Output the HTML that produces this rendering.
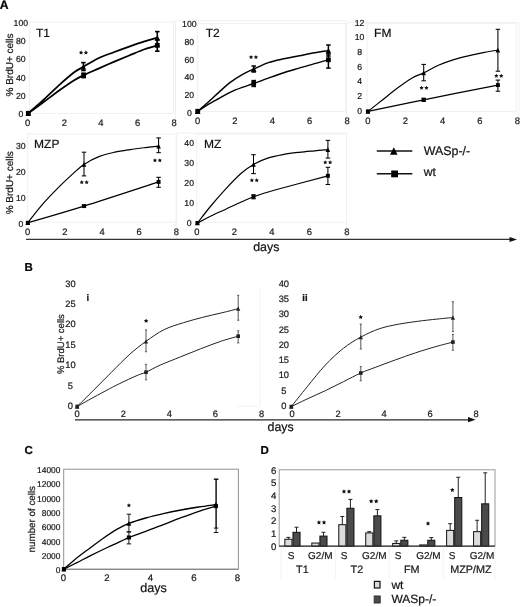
<!DOCTYPE html>
<html><head><meta charset="utf-8"><title>figure</title>
<style>
html,body{margin:0;padding:0;background:#fff;}
body{width:520px;height:607px;overflow:hidden;}
svg{display:block;font-family:"Liberation Sans", sans-serif;will-change:transform;text-rendering:geometricPrecision;}
svg text{stroke:#1a1a1a;stroke-width:0.22px;}
</style></head>
<body>
<svg width="520" height="607" viewBox="0 0 520 607">
<rect width="520" height="607" fill="#fff"/>
<text x="-0.3" y="8.7" font-size="12.2" font-weight="bold" fill="#000">A</text>
<text x="24.6" y="271.4" font-size="11.5" font-weight="bold" fill="#000">B</text>
<text x="24.4" y="453.6" font-size="11.5" font-weight="bold" fill="#000">C</text>
<text x="260.4" y="453.8" font-size="11.5" font-weight="bold" fill="#000">D</text>
<rect x="29.5" y="22" width="144" height="91.5" fill="none" stroke="#f0f0f0" stroke-width="1"/>
<path d="M175.4,125 V20.8 H346.3 V125" fill="none" stroke="#f0f0f0" stroke-width="1"/>
<rect x="197.7" y="23.5" width="148.3" height="87.9" fill="none" stroke="#f0f0f0" stroke-width="1"/>
<path d="M346.3,125 V22.7 H519 V125" fill="none" stroke="#f0f0f0" stroke-width="1"/>
<rect x="367.1" y="23.3" width="149.1" height="88.1" fill="none" stroke="#f0f0f0" stroke-width="1"/>
<rect x="27.7" y="134" width="148.6" height="88.3" fill="none" stroke="#f0f0f0" stroke-width="1"/>
<path d="M176.3,240 V133.1 H346.5 V240" fill="none" stroke="#f0f0f0" stroke-width="1"/>
<rect x="196.8" y="134" width="149.7" height="88.3" fill="none" stroke="#f0f0f0" stroke-width="1"/>
<rect x="63.7" y="469.2" width="174.7" height="100" fill="none" stroke="#939393" stroke-width="1"/>
<line x1="63.7" y1="569.4" x2="238.4" y2="569.4" stroke="#8a8a8a" stroke-width="1.3"/>
<text x="20.8" y="117.05" font-size="8.7" text-anchor="middle" font-weight="normal" fill="#1a1a1a">0</text>
<text x="20.8" y="98.8" font-size="8.7" text-anchor="middle" font-weight="normal" fill="#1a1a1a">20</text>
<text x="20.8" y="80.56" font-size="8.7" text-anchor="middle" font-weight="normal" fill="#1a1a1a">40</text>
<text x="20.8" y="62.32" font-size="8.7" text-anchor="middle" font-weight="normal" fill="#1a1a1a">60</text>
<text x="20.8" y="44.08" font-size="8.7" text-anchor="middle" font-weight="normal" fill="#1a1a1a">80</text>
<text x="20.8" y="25.84" font-size="8.7" text-anchor="middle" font-weight="normal" fill="#1a1a1a">100</text>
<text x="27.7" y="126.09" font-size="9.4" text-anchor="middle" font-weight="normal" fill="#1a1a1a">0</text>
<text x="64.33" y="126.09" font-size="9.4" text-anchor="middle" font-weight="normal" fill="#1a1a1a">2</text>
<text x="100.95" y="126.09" font-size="9.4" text-anchor="middle" font-weight="normal" fill="#1a1a1a">4</text>
<text x="137.57" y="126.09" font-size="9.4" text-anchor="middle" font-weight="normal" fill="#1a1a1a">6</text>
<text x="174.2" y="126.09" font-size="9.4" text-anchor="middle" font-weight="normal" fill="#1a1a1a">8</text>
<text x="36" y="37" font-size="12" text-anchor="start" font-weight="normal" fill="#111">T1</text>
<text x="0" y="0" font-size="10" text-anchor="middle" fill="#1a1a1a" transform="translate(13,65) rotate(-90)">% BrdU+ cells</text>
<path d="M28.3,113.3 C30.82,111.08 38.32,104.65 43.4,100 C48.48,95.35 53.67,90.02 58.8,85.4 C63.93,80.78 70.1,75.4 74.2,72.3 C78.3,69.2 79.37,69.15 83.4,66.8 C87.43,64.45 93.33,60.63 98.4,58.2 C103.47,55.77 108.67,54.13 113.8,52.2 C118.93,50.27 124.08,48.4 129.2,46.6 C134.32,44.8 139.82,42.88 144.5,41.4 C149.18,39.92 155.17,38.32 157.3,37.7" stroke="#000" stroke-width="1.75" fill="none" stroke-linejoin="round"/>
<path d="M28.3,113.3 C30.82,111.47 38.32,106.05 43.4,102.3 C48.48,98.55 53.67,94.47 58.8,90.8 C63.93,87.13 70.07,82.9 74.2,80.3 C78.33,77.7 79.57,77.15 83.6,75.2 C87.63,73.25 93.37,70.82 98.4,68.6 C103.43,66.38 108.67,64.08 113.8,61.9 C118.93,59.72 124.08,57.6 129.2,55.5 C134.32,53.4 139.82,50.98 144.5,49.3 C149.18,47.62 155.17,46.05 157.3,45.4" stroke="#000" stroke-width="1.75" fill="none" stroke-linejoin="round"/>
<line x1="83.4" y1="62.6" x2="83.4" y2="70.5" stroke="#000" stroke-width="1.6"/>
<line x1="81.15" y1="62.6" x2="85.65" y2="62.6" stroke="#000" stroke-width="1.6"/>
<line x1="81.15" y1="70.5" x2="85.65" y2="70.5" stroke="#000" stroke-width="1.6"/>
<line x1="157.3" y1="31.6" x2="157.3" y2="46" stroke="#000" stroke-width="1.6"/>
<line x1="155.05" y1="31.6" x2="159.55" y2="31.6" stroke="#000" stroke-width="1.6"/>
<line x1="155.05" y1="46" x2="159.55" y2="46" stroke="#000" stroke-width="1.6"/>
<path d="M28.3,110.5 L31.1,116.1 L25.5,116.1 Z" fill="#000"/>
<path d="M83.4,64.2 L86.2,69.8 L80.6,69.8 Z" fill="#000"/>
<path d="M157.3,34.9 L160.1,40.5 L154.5,40.5 Z" fill="#000"/>
<line x1="83.6" y1="73.2" x2="83.6" y2="77.6" stroke="#000" stroke-width="1.6"/>
<line x1="81.35" y1="73.2" x2="85.85" y2="73.2" stroke="#000" stroke-width="1.6"/>
<line x1="81.35" y1="77.6" x2="85.85" y2="77.6" stroke="#000" stroke-width="1.6"/>
<line x1="157.3" y1="40" x2="157.3" y2="51.2" stroke="#000" stroke-width="1.6"/>
<line x1="155.05" y1="40" x2="159.55" y2="40" stroke="#000" stroke-width="1.6"/>
<line x1="155.05" y1="51.2" x2="159.55" y2="51.2" stroke="#000" stroke-width="1.6"/>
<rect x="25.92" y="110.92" width="4.76" height="4.76" fill="#000" stroke="none" stroke-width="1"/>
<rect x="81.22" y="73.02" width="4.76" height="4.76" fill="#000" stroke="none" stroke-width="1"/>
<rect x="154.92" y="43.02" width="4.76" height="4.76" fill="#000" stroke="none" stroke-width="1"/>
<polygon points="81.06,50.35 81.72,51.69 83.2,51.9 82.13,52.95 82.39,54.42 81.06,53.73 79.74,54.42 79.99,52.95 78.92,51.9 80.4,51.69" fill="#111"/>
<polygon points="85.94,50.35 86.6,51.69 88.08,51.9 87.01,52.95 87.26,54.42 85.94,53.73 84.61,54.42 84.87,52.95 83.8,51.9 85.28,51.69" fill="#111"/>
<text x="189.3" y="115.84" font-size="8.7" text-anchor="middle" font-weight="normal" fill="#1a1a1a">0</text>
<text x="189.3" y="98.17" font-size="8.7" text-anchor="middle" font-weight="normal" fill="#1a1a1a">20</text>
<text x="189.3" y="80.48" font-size="8.7" text-anchor="middle" font-weight="normal" fill="#1a1a1a">40</text>
<text x="189.3" y="62.8" font-size="8.7" text-anchor="middle" font-weight="normal" fill="#1a1a1a">60</text>
<text x="189.3" y="45.12" font-size="8.7" text-anchor="middle" font-weight="normal" fill="#1a1a1a">80</text>
<text x="189.3" y="27.44" font-size="8.7" text-anchor="middle" font-weight="normal" fill="#1a1a1a">100</text>
<text x="197.6" y="124.29" font-size="9.4" text-anchor="middle" font-weight="normal" fill="#1a1a1a">0</text>
<text x="234.97" y="124.29" font-size="9.4" text-anchor="middle" font-weight="normal" fill="#1a1a1a">2</text>
<text x="272.35" y="124.29" font-size="9.4" text-anchor="middle" font-weight="normal" fill="#1a1a1a">4</text>
<text x="309.73" y="124.29" font-size="9.4" text-anchor="middle" font-weight="normal" fill="#1a1a1a">6</text>
<text x="347.1" y="124.29" font-size="9.4" text-anchor="middle" font-weight="normal" fill="#1a1a1a">8</text>
<text x="205.7" y="37" font-size="12" text-anchor="start" font-weight="normal" fill="#111">T2</text>
<path d="M197.7,111.3 C199.33,109.87 203.93,105.9 207.5,102.7 C211.07,99.5 215.25,95.52 219.1,92.1 C222.95,88.68 226.75,85.12 230.6,82.2 C234.45,79.28 238.35,76.78 242.2,74.6 C246.05,72.42 249.33,71.1 253.7,69.1 C258.07,67.1 263.38,64.32 268.4,62.6 C273.42,60.88 278.67,59.93 283.8,58.8 C288.93,57.67 294.08,56.8 299.2,55.8 C304.32,54.8 309.63,53.67 314.5,52.8 C319.37,51.93 326.08,50.97 328.4,50.6" stroke="#000" stroke-width="1.45" fill="none" stroke-linejoin="round"/>
<path d="M197.7,111.3 C199.33,110.22 203.93,106.97 207.5,104.8 C211.07,102.63 215.25,100.42 219.1,98.3 C222.95,96.18 226.75,93.92 230.6,92.1 C234.45,90.28 238.35,88.83 242.2,87.4 C246.05,85.97 249.33,85.05 253.7,83.5 C258.07,81.95 263.38,79.9 268.4,78.1 C273.42,76.3 278.67,74.37 283.8,72.7 C288.93,71.03 294.08,69.62 299.2,68.1 C304.32,66.58 309.63,64.98 314.5,63.6 C319.37,62.22 326.08,60.43 328.4,59.8" stroke="#000" stroke-width="1.45" fill="none" stroke-linejoin="round"/>
<line x1="253.7" y1="66" x2="253.7" y2="72" stroke="#000" stroke-width="1.5"/>
<line x1="251.45" y1="66" x2="255.95" y2="66" stroke="#000" stroke-width="1.5"/>
<line x1="251.45" y1="72" x2="255.95" y2="72" stroke="#000" stroke-width="1.5"/>
<line x1="328.4" y1="45" x2="328.4" y2="56" stroke="#000" stroke-width="1.5"/>
<line x1="326.15" y1="45" x2="330.65" y2="45" stroke="#000" stroke-width="1.5"/>
<line x1="326.15" y1="56" x2="330.65" y2="56" stroke="#000" stroke-width="1.5"/>
<path d="M197.7,108.5 L200.5,114.1 L194.9,114.1 Z" fill="#000"/>
<path d="M253.7,66.1 L256.5,71.7 L250.9,71.7 Z" fill="#000"/>
<path d="M328.4,47.8 L331.2,53.4 L325.6,53.4 Z" fill="#000"/>
<line x1="253.7" y1="80.6" x2="253.7" y2="86.4" stroke="#000" stroke-width="1.5"/>
<line x1="251.45" y1="80.6" x2="255.95" y2="80.6" stroke="#000" stroke-width="1.5"/>
<line x1="251.45" y1="86.4" x2="255.95" y2="86.4" stroke="#000" stroke-width="1.5"/>
<line x1="328.4" y1="54" x2="328.4" y2="68.1" stroke="#000" stroke-width="1.5"/>
<line x1="326.15" y1="54" x2="330.65" y2="54" stroke="#000" stroke-width="1.5"/>
<line x1="326.15" y1="68.1" x2="330.65" y2="68.1" stroke="#000" stroke-width="1.5"/>
<rect x="195.32" y="108.92" width="4.76" height="4.76" fill="#000" stroke="none" stroke-width="1"/>
<rect x="251.32" y="81.12" width="4.76" height="4.76" fill="#000" stroke="none" stroke-width="1"/>
<rect x="326.02" y="57.42" width="4.76" height="4.76" fill="#000" stroke="none" stroke-width="1"/>
<polygon points="251.06,54.95 251.72,56.29 253.2,56.5 252.13,57.55 252.39,59.02 251.06,58.33 249.74,59.02 249.99,57.55 248.92,56.5 250.4,56.29" fill="#111"/>
<polygon points="255.94,54.95 256.6,56.29 258.08,56.5 257.01,57.55 257.26,59.02 255.94,58.33 254.61,59.02 254.87,57.55 253.8,56.5 255.28,56.29" fill="#111"/>
<text x="359.6" y="113.84" font-size="8.7" text-anchor="middle" font-weight="normal" fill="#1a1a1a">0</text>
<text x="359.6" y="99.13" font-size="8.7" text-anchor="middle" font-weight="normal" fill="#1a1a1a">2</text>
<text x="359.6" y="84.41" font-size="8.7" text-anchor="middle" font-weight="normal" fill="#1a1a1a">4</text>
<text x="359.6" y="69.7" font-size="8.7" text-anchor="middle" font-weight="normal" fill="#1a1a1a">6</text>
<text x="359.6" y="54.98" font-size="8.7" text-anchor="middle" font-weight="normal" fill="#1a1a1a">8</text>
<text x="359.6" y="40.26" font-size="8.7" text-anchor="middle" font-weight="normal" fill="#1a1a1a">10</text>
<text x="359.6" y="25.54" font-size="8.7" text-anchor="middle" font-weight="normal" fill="#1a1a1a">12</text>
<text x="367.9" y="124.49" font-size="9.4" text-anchor="middle" font-weight="normal" fill="#1a1a1a">0</text>
<text x="405.25" y="124.49" font-size="9.4" text-anchor="middle" font-weight="normal" fill="#1a1a1a">2</text>
<text x="442.6" y="124.49" font-size="9.4" text-anchor="middle" font-weight="normal" fill="#1a1a1a">4</text>
<text x="479.95" y="124.49" font-size="9.4" text-anchor="middle" font-weight="normal" fill="#1a1a1a">6</text>
<text x="517.3" y="124.49" font-size="9.4" text-anchor="middle" font-weight="normal" fill="#1a1a1a">8</text>
<text x="374.1" y="36.8" font-size="12" text-anchor="start" font-weight="normal" fill="#111">FM</text>
<path d="M367.9,111.4 C370.15,109.63 376.58,104.62 381.4,100.8 C386.22,96.98 391.67,92.32 396.8,88.5 C401.93,84.68 407.72,80.5 412.2,77.9 C416.68,75.3 419.33,75 423.7,72.9 C428.07,70.8 433.38,67.52 438.4,65.3 C443.42,63.08 448.67,61.22 453.8,59.6 C458.93,57.98 464.08,56.8 469.2,55.6 C474.32,54.4 479.72,53.32 484.5,52.4 C489.28,51.48 495.67,50.48 497.9,50.1" stroke="#000" stroke-width="1.2" fill="none" stroke-linejoin="round"/>
<path d="M367.9,111.4 C377.2,109.47 402.03,104.18 423.7,99.8 C445.37,95.42 485.53,87.55 497.9,85.1" stroke="#000" stroke-width="1.2" fill="none" stroke-linejoin="round"/>
<line x1="423.7" y1="64.4" x2="423.7" y2="80.8" stroke="#000" stroke-width="1.05"/>
<line x1="421.45" y1="64.4" x2="425.95" y2="64.4" stroke="#000" stroke-width="1.05"/>
<line x1="421.45" y1="80.8" x2="425.95" y2="80.8" stroke="#000" stroke-width="1.05"/>
<line x1="497.9" y1="29.3" x2="497.9" y2="71.2" stroke="#000" stroke-width="1.05"/>
<line x1="495.65" y1="29.3" x2="500.15" y2="29.3" stroke="#000" stroke-width="1.05"/>
<line x1="495.65" y1="71.2" x2="500.15" y2="71.2" stroke="#000" stroke-width="1.05"/>
<path d="M367.9,109.1 L370.2,113.7 L365.6,113.7 Z" fill="#000"/>
<path d="M423.7,70.6 L426,75.2 L421.4,75.2 Z" fill="#000"/>
<path d="M497.9,47.8 L500.2,52.4 L495.6,52.4 Z" fill="#000"/>
<line x1="423.7" y1="98.3" x2="423.7" y2="101.3" stroke="#000" stroke-width="1.05"/>
<line x1="421.45" y1="98.3" x2="425.95" y2="98.3" stroke="#000" stroke-width="1.05"/>
<line x1="421.45" y1="101.3" x2="425.95" y2="101.3" stroke="#000" stroke-width="1.05"/>
<line x1="497.9" y1="80.1" x2="497.9" y2="91.2" stroke="#000" stroke-width="1.05"/>
<line x1="495.65" y1="80.1" x2="500.15" y2="80.1" stroke="#000" stroke-width="1.05"/>
<line x1="495.65" y1="91.2" x2="500.15" y2="91.2" stroke="#000" stroke-width="1.05"/>
<rect x="365.94" y="109.45" width="3.91" height="3.91" fill="#000" stroke="none" stroke-width="1"/>
<rect x="421.75" y="97.84" width="3.91" height="3.91" fill="#000" stroke="none" stroke-width="1"/>
<rect x="495.94" y="83.14" width="3.91" height="3.91" fill="#000" stroke="none" stroke-width="1"/>
<polygon points="421.56,85.75 422.22,87.09 423.7,87.3 422.63,88.35 422.89,89.82 421.56,89.12 420.24,89.82 420.49,88.35 419.42,87.3 420.9,87.09" fill="#111"/>
<polygon points="426.44,85.75 427.1,87.09 428.58,87.3 427.51,88.35 427.76,89.82 426.44,89.12 425.11,89.82 425.37,88.35 424.3,87.3 425.78,87.09" fill="#111"/>
<polygon points="496.36,73.65 497.02,74.99 498.5,75.2 497.43,76.25 497.69,77.72 496.36,77.03 495.04,77.72 495.29,76.25 494.22,75.2 495.7,74.99" fill="#111"/>
<polygon points="501.24,73.65 501.9,74.99 503.38,75.2 502.31,76.25 502.56,77.72 501.24,77.03 499.91,77.72 500.17,76.25 499.1,75.2 500.58,74.99" fill="#111"/>
<text x="20.8" y="226.64" font-size="8.7" text-anchor="middle" font-weight="normal" fill="#1a1a1a">0</text>
<text x="20.8" y="200.78" font-size="8.7" text-anchor="middle" font-weight="normal" fill="#1a1a1a">10</text>
<text x="20.8" y="174.91" font-size="8.7" text-anchor="middle" font-weight="normal" fill="#1a1a1a">20</text>
<text x="20.8" y="149.04" font-size="8.7" text-anchor="middle" font-weight="normal" fill="#1a1a1a">30</text>
<text x="27.7" y="235.09" font-size="9.4" text-anchor="middle" font-weight="normal" fill="#1a1a1a">0</text>
<text x="64.85" y="235.09" font-size="9.4" text-anchor="middle" font-weight="normal" fill="#1a1a1a">2</text>
<text x="102" y="235.09" font-size="9.4" text-anchor="middle" font-weight="normal" fill="#1a1a1a">4</text>
<text x="139.15" y="235.09" font-size="9.4" text-anchor="middle" font-weight="normal" fill="#1a1a1a">6</text>
<text x="176.3" y="235.09" font-size="9.4" text-anchor="middle" font-weight="normal" fill="#1a1a1a">8</text>
<text x="34.1" y="147.8" font-size="12" text-anchor="start" font-weight="normal" fill="#111">MZP</text>
<text x="0" y="0" font-size="10" text-anchor="middle" fill="#1a1a1a" transform="translate(13.4,182.8) rotate(-90)">% BrdU+ cells</text>
<path d="M27.8,222.8 C30.07,219.93 36.57,211.22 41.4,205.6 C46.23,199.98 51.67,194.3 56.8,189.1 C61.93,183.9 67.67,178.52 72.2,174.4 C76.73,170.28 79.47,167.4 84,164.4 C88.53,161.4 94.27,158.43 99.4,156.4 C104.53,154.37 109.67,153.33 114.8,152.2 C119.93,151.07 125.08,150.37 130.2,149.6 C135.32,148.83 140.77,148.18 145.5,147.6 C150.23,147.02 156.42,146.35 158.6,146.1" stroke="#000" stroke-width="1.2" fill="none" stroke-linejoin="round"/>
<path d="M27.8,222.8 C37.17,220.02 62.2,212.92 84,206.1 C105.8,199.28 146.17,185.93 158.6,181.9" stroke="#000" stroke-width="1.2" fill="none" stroke-linejoin="round"/>
<line x1="84" y1="152.2" x2="84" y2="175.9" stroke="#000" stroke-width="1.05"/>
<line x1="81.75" y1="152.2" x2="86.25" y2="152.2" stroke="#000" stroke-width="1.05"/>
<line x1="81.75" y1="175.9" x2="86.25" y2="175.9" stroke="#000" stroke-width="1.05"/>
<line x1="158.6" y1="137.9" x2="158.6" y2="152.7" stroke="#000" stroke-width="1.05"/>
<line x1="156.35" y1="137.9" x2="160.85" y2="137.9" stroke="#000" stroke-width="1.05"/>
<line x1="156.35" y1="152.7" x2="160.85" y2="152.7" stroke="#000" stroke-width="1.05"/>
<path d="M27.8,220.5 L30.1,225.1 L25.5,225.1 Z" fill="#000"/>
<path d="M84,162.1 L86.3,166.7 L81.7,166.7 Z" fill="#000"/>
<path d="M158.6,143.8 L160.9,148.4 L156.3,148.4 Z" fill="#000"/>
<line x1="84" y1="205" x2="84" y2="207.2" stroke="#000" stroke-width="1.05"/>
<line x1="81.75" y1="205" x2="86.25" y2="205" stroke="#000" stroke-width="1.05"/>
<line x1="81.75" y1="207.2" x2="86.25" y2="207.2" stroke="#000" stroke-width="1.05"/>
<line x1="158.6" y1="177.3" x2="158.6" y2="187.3" stroke="#000" stroke-width="1.05"/>
<line x1="156.35" y1="177.3" x2="160.85" y2="177.3" stroke="#000" stroke-width="1.05"/>
<line x1="156.35" y1="187.3" x2="160.85" y2="187.3" stroke="#000" stroke-width="1.05"/>
<rect x="25.85" y="220.84" width="3.91" height="3.91" fill="#000" stroke="none" stroke-width="1"/>
<rect x="82.05" y="204.14" width="3.91" height="3.91" fill="#000" stroke="none" stroke-width="1"/>
<rect x="156.64" y="179.94" width="3.91" height="3.91" fill="#000" stroke="none" stroke-width="1"/>
<polygon points="81.76,180.05 82.42,181.39 83.9,181.6 82.83,182.65 83.09,184.12 81.76,183.43 80.44,184.12 80.69,182.65 79.62,181.6 81.1,181.39" fill="#111"/>
<polygon points="86.64,180.05 87.3,181.39 88.78,181.6 87.71,182.65 87.96,184.12 86.64,183.43 85.31,184.12 85.57,182.65 84.5,181.6 85.98,181.39" fill="#111"/>
<polygon points="154.96,158.15 155.62,159.49 157.1,159.7 156.03,160.75 156.29,162.22 154.96,161.53 153.64,162.22 153.89,160.75 152.82,159.7 154.3,159.49" fill="#111"/>
<polygon points="159.84,158.15 160.5,159.49 161.98,159.7 160.91,160.75 161.16,162.22 159.84,161.53 158.51,162.22 158.77,160.75 157.7,159.7 159.18,159.49" fill="#111"/>
<text x="189.2" y="226.04" font-size="8.7" text-anchor="middle" font-weight="normal" fill="#1a1a1a">0</text>
<text x="189.2" y="206.14" font-size="8.7" text-anchor="middle" font-weight="normal" fill="#1a1a1a">10</text>
<text x="189.2" y="186.24" font-size="8.7" text-anchor="middle" font-weight="normal" fill="#1a1a1a">20</text>
<text x="189.2" y="166.34" font-size="8.7" text-anchor="middle" font-weight="normal" fill="#1a1a1a">30</text>
<text x="189.2" y="146.44" font-size="8.7" text-anchor="middle" font-weight="normal" fill="#1a1a1a">40</text>
<text x="196.8" y="234.79" font-size="9.4" text-anchor="middle" font-weight="normal" fill="#1a1a1a">0</text>
<text x="234.32" y="234.79" font-size="9.4" text-anchor="middle" font-weight="normal" fill="#1a1a1a">2</text>
<text x="271.85" y="234.79" font-size="9.4" text-anchor="middle" font-weight="normal" fill="#1a1a1a">4</text>
<text x="309.38" y="234.79" font-size="9.4" text-anchor="middle" font-weight="normal" fill="#1a1a1a">6</text>
<text x="346.9" y="234.79" font-size="9.4" text-anchor="middle" font-weight="normal" fill="#1a1a1a">8</text>
<text x="204" y="147.6" font-size="12" text-anchor="start" font-weight="normal" fill="#111">MZ</text>
<path d="M197.4,223 C199.57,220.25 205.67,212.18 210.4,206.5 C215.13,200.82 220.67,194.43 225.8,188.9 C230.93,183.37 236.58,177.38 241.2,173.3 C245.82,169.22 248.97,166.97 253.5,164.4 C258.03,161.83 263.35,159.57 268.4,157.9 C273.45,156.23 278.67,155.33 283.8,154.4 C288.93,153.47 294.08,152.9 299.2,152.3 C304.32,151.7 309.72,151.25 314.5,150.8 C319.28,150.35 325.67,149.8 327.9,149.6" stroke="#000" stroke-width="1.2" fill="none" stroke-linejoin="round"/>
<path d="M197.4,223 C199.57,221.87 205.67,218.5 210.4,216.2 C215.13,213.9 220.67,211.57 225.8,209.2 C230.93,206.83 236.58,204.08 241.2,202 C245.82,199.92 247.87,198.7 253.5,196.7 C259.13,194.7 262.6,193.48 275,190 C287.4,186.52 319.08,178.17 327.9,175.8" stroke="#000" stroke-width="1.2" fill="none" stroke-linejoin="round"/>
<line x1="253.5" y1="154.7" x2="253.5" y2="173.6" stroke="#000" stroke-width="1.05"/>
<line x1="251.25" y1="154.7" x2="255.75" y2="154.7" stroke="#000" stroke-width="1.05"/>
<line x1="251.25" y1="173.6" x2="255.75" y2="173.6" stroke="#000" stroke-width="1.05"/>
<line x1="327.9" y1="140.4" x2="327.9" y2="158.1" stroke="#000" stroke-width="1.05"/>
<line x1="325.65" y1="140.4" x2="330.15" y2="140.4" stroke="#000" stroke-width="1.05"/>
<line x1="325.65" y1="158.1" x2="330.15" y2="158.1" stroke="#000" stroke-width="1.05"/>
<path d="M197.4,220.7 L199.7,225.3 L195.1,225.3 Z" fill="#000"/>
<path d="M253.5,162.1 L255.8,166.7 L251.2,166.7 Z" fill="#000"/>
<path d="M327.9,147.3 L330.2,151.9 L325.6,151.9 Z" fill="#000"/>
<line x1="253.5" y1="194.8" x2="253.5" y2="198.8" stroke="#000" stroke-width="1.05"/>
<line x1="251.25" y1="194.8" x2="255.75" y2="194.8" stroke="#000" stroke-width="1.05"/>
<line x1="251.25" y1="198.8" x2="255.75" y2="198.8" stroke="#000" stroke-width="1.05"/>
<line x1="327.9" y1="167.3" x2="327.9" y2="184.5" stroke="#000" stroke-width="1.05"/>
<line x1="325.65" y1="167.3" x2="330.15" y2="167.3" stroke="#000" stroke-width="1.05"/>
<line x1="325.65" y1="184.5" x2="330.15" y2="184.5" stroke="#000" stroke-width="1.05"/>
<rect x="195.44" y="221.04" width="3.91" height="3.91" fill="#000" stroke="none" stroke-width="1"/>
<rect x="251.54" y="194.74" width="3.91" height="3.91" fill="#000" stroke="none" stroke-width="1"/>
<rect x="325.94" y="173.84" width="3.91" height="3.91" fill="#000" stroke="none" stroke-width="1"/>
<polygon points="251.86,178.05 252.52,179.39 254,179.6 252.93,180.65 253.19,182.12 251.86,181.43 250.54,182.12 250.79,180.65 249.72,179.6 251.2,179.39" fill="#111"/>
<polygon points="256.74,178.05 257.4,179.39 258.88,179.6 257.81,180.65 258.06,182.12 256.74,181.43 255.41,182.12 255.67,180.65 254.6,179.6 256.08,179.39" fill="#111"/>
<polygon points="325.26,160.25 325.92,161.59 327.4,161.8 326.33,162.85 326.59,164.32 325.26,163.62 323.94,164.32 324.19,162.85 323.12,161.8 324.6,161.59" fill="#111"/>
<polygon points="330.14,160.25 330.8,161.59 332.28,161.8 331.21,162.85 331.46,164.32 330.14,163.62 328.81,164.32 329.07,162.85 328,161.8 329.48,161.59" fill="#111"/>
<text x="70.4" y="408.95" font-size="9.3" text-anchor="middle" font-weight="normal" fill="#1a1a1a">0</text>
<text x="70.4" y="388.59" font-size="9.3" text-anchor="middle" font-weight="normal" fill="#1a1a1a">5</text>
<text x="70.4" y="368.22" font-size="9.3" text-anchor="middle" font-weight="normal" fill="#1a1a1a">10</text>
<text x="70.4" y="347.86" font-size="9.3" text-anchor="middle" font-weight="normal" fill="#1a1a1a">15</text>
<text x="70.4" y="327.49" font-size="9.3" text-anchor="middle" font-weight="normal" fill="#1a1a1a">20</text>
<text x="70.4" y="307.12" font-size="9.3" text-anchor="middle" font-weight="normal" fill="#1a1a1a">25</text>
<text x="70.4" y="286.75" font-size="9.3" text-anchor="middle" font-weight="normal" fill="#1a1a1a">30</text>
<text x="77.2" y="416.65" font-size="9.3" text-anchor="middle" font-weight="normal" fill="#1a1a1a">0</text>
<text x="123.28" y="416.65" font-size="9.3" text-anchor="middle" font-weight="normal" fill="#1a1a1a">2</text>
<text x="169.35" y="416.65" font-size="9.3" text-anchor="middle" font-weight="normal" fill="#1a1a1a">4</text>
<text x="215.43" y="416.65" font-size="9.3" text-anchor="middle" font-weight="normal" fill="#1a1a1a">6</text>
<text x="261.5" y="416.65" font-size="9.3" text-anchor="middle" font-weight="normal" fill="#1a1a1a">8</text>
<text x="86.6" y="300.8" font-size="9.5" text-anchor="start" font-weight="bold" fill="#111">i</text>
<text x="0" y="0" font-size="9.5" text-anchor="middle" fill="#1a1a1a" transform="translate(63.62,344.1) rotate(-90)">% BrdU+ cells</text>
<path d="M77.2,406.5 C79.85,403.87 87.42,396.38 93.1,390.7 C98.78,385.02 105.25,378.42 111.3,372.4 C117.35,366.38 123.62,359.78 129.4,354.6 C135.18,349.42 140.2,345.47 146,341.3 C151.8,337.13 157.95,332.7 164.2,329.6 C170.45,326.5 177.08,324.75 183.5,322.7 C189.92,320.65 196.3,318.95 202.7,317.3 C209.1,315.65 215.98,314.23 221.9,312.8 C227.82,311.37 235.48,309.38 238.2,308.7" stroke="#222" stroke-width="1" fill="none" stroke-linejoin="round"/>
<path d="M77.2,406.5 C79.85,405.02 87.7,400.57 93.1,397.6 C98.5,394.63 105.25,391 109.6,388.7 C113.95,386.4 116,385.38 119.2,383.8 C122.4,382.22 125.58,380.68 128.8,379.2 C132.02,377.72 135.63,376.07 138.5,374.9 C141.37,373.73 142.38,373.83 146,372.2 C149.62,370.57 154.47,367.65 160.2,365.1 C165.93,362.55 173.67,359.62 180.4,356.9 C187.13,354.18 193.87,351.4 200.6,348.8 C207.33,346.2 214.53,343.4 220.8,341.3 C227.07,339.2 235.3,337.05 238.2,336.2" stroke="#222" stroke-width="1" fill="none" stroke-linejoin="round"/>
<line x1="146" y1="329.9" x2="146" y2="351.7" stroke="#666" stroke-width="1.1"/>
<line x1="144.9" y1="329.9" x2="147.1" y2="329.9" stroke="#666" stroke-width="1.1"/>
<line x1="144.9" y1="351.7" x2="147.1" y2="351.7" stroke="#666" stroke-width="1.1"/>
<line x1="238.2" y1="295.4" x2="238.2" y2="320.2" stroke="#666" stroke-width="1.1"/>
<line x1="237.1" y1="295.4" x2="239.3" y2="295.4" stroke="#666" stroke-width="1.1"/>
<line x1="237.1" y1="320.2" x2="239.3" y2="320.2" stroke="#666" stroke-width="1.1"/>
<path d="M77.2,404.35 L79.35,408.65 L75.05,408.65 Z" fill="#222"/>
<path d="M146,339.15 L148.15,343.45 L143.85,343.45 Z" fill="#222"/>
<path d="M238.2,306.55 L240.35,310.85 L236.05,310.85 Z" fill="#222"/>
<line x1="146" y1="364.4" x2="146" y2="379.8" stroke="#666" stroke-width="1.1"/>
<line x1="144.9" y1="364.4" x2="147.1" y2="364.4" stroke="#666" stroke-width="1.1"/>
<line x1="144.9" y1="379.8" x2="147.1" y2="379.8" stroke="#666" stroke-width="1.1"/>
<line x1="238.2" y1="330.8" x2="238.2" y2="342.9" stroke="#666" stroke-width="1.1"/>
<line x1="237.1" y1="330.8" x2="239.3" y2="330.8" stroke="#666" stroke-width="1.1"/>
<line x1="237.1" y1="342.9" x2="239.3" y2="342.9" stroke="#666" stroke-width="1.1"/>
<rect x="75.37" y="404.67" width="3.65" height="3.65" fill="#222" stroke="none" stroke-width="1"/>
<rect x="144.17" y="370.37" width="3.65" height="3.65" fill="#222" stroke="none" stroke-width="1"/>
<rect x="236.37" y="334.37" width="3.65" height="3.65" fill="#222" stroke="none" stroke-width="1"/>
<polygon points="146.1,318.56 146.79,319.95 148.33,320.18 147.21,321.26 147.48,322.79 146.1,322.07 144.72,322.79 144.99,321.26 143.87,320.18 145.41,319.95" fill="#111"/>
<text x="283.8" y="408.95" font-size="9.3" text-anchor="middle" font-weight="normal" fill="#1a1a1a">0</text>
<text x="283.8" y="393.68" font-size="9.3" text-anchor="middle" font-weight="normal" fill="#1a1a1a">5</text>
<text x="283.8" y="378.4" font-size="9.3" text-anchor="middle" font-weight="normal" fill="#1a1a1a">10</text>
<text x="283.8" y="363.13" font-size="9.3" text-anchor="middle" font-weight="normal" fill="#1a1a1a">15</text>
<text x="283.8" y="347.86" font-size="9.3" text-anchor="middle" font-weight="normal" fill="#1a1a1a">20</text>
<text x="283.8" y="332.58" font-size="9.3" text-anchor="middle" font-weight="normal" fill="#1a1a1a">25</text>
<text x="283.8" y="317.31" font-size="9.3" text-anchor="middle" font-weight="normal" fill="#1a1a1a">30</text>
<text x="283.8" y="302.03" font-size="9.3" text-anchor="middle" font-weight="normal" fill="#1a1a1a">35</text>
<text x="283.8" y="286.75" font-size="9.3" text-anchor="middle" font-weight="normal" fill="#1a1a1a">40</text>
<text x="292" y="416.75" font-size="9.3" text-anchor="middle" font-weight="normal" fill="#1a1a1a">0</text>
<text x="338" y="416.75" font-size="9.3" text-anchor="middle" font-weight="normal" fill="#1a1a1a">2</text>
<text x="384" y="416.75" font-size="9.3" text-anchor="middle" font-weight="normal" fill="#1a1a1a">4</text>
<text x="430" y="416.75" font-size="9.3" text-anchor="middle" font-weight="normal" fill="#1a1a1a">6</text>
<text x="476" y="416.75" font-size="9.3" text-anchor="middle" font-weight="normal" fill="#1a1a1a">8</text>
<text x="302.3" y="300.8" font-size="9.5" text-anchor="start" font-weight="bold" fill="#111">ii</text>
<path d="M291.3,406.6 C293.93,403.32 301.43,393.82 307.1,386.9 C312.77,379.98 319.25,371.53 325.3,365.1 C331.35,358.67 337.48,352.97 343.4,348.3 C349.32,343.63 354.83,340.35 360.8,337.1 C366.77,333.85 372.92,330.95 379.2,328.8 C385.48,326.65 392.08,325.45 398.5,324.2 C404.92,322.95 411.3,322.15 417.7,321.3 C424.1,320.45 431.03,319.73 436.9,319.1 C442.77,318.47 450.23,317.77 452.9,317.5" stroke="#222" stroke-width="1" fill="none" stroke-linejoin="round"/>
<path d="M291.3,406.6 C293.93,405.33 301.43,401.65 307.1,399 C312.77,396.35 319.25,393.58 325.3,390.7 C331.35,387.82 337.48,384.65 343.4,381.7 C349.32,378.75 355.5,375.38 360.8,373 C366.1,370.62 369.43,369.58 375.2,367.4 C380.97,365.22 388.67,362.33 395.4,359.9 C402.13,357.47 408.87,355.02 415.6,352.8 C422.33,350.58 429.58,348.38 435.8,346.6 C442.02,344.82 450.05,342.85 452.9,342.1" stroke="#222" stroke-width="1" fill="none" stroke-linejoin="round"/>
<line x1="360.8" y1="324.1" x2="360.8" y2="349" stroke="#666" stroke-width="1.1"/>
<line x1="359.7" y1="324.1" x2="361.9" y2="324.1" stroke="#666" stroke-width="1.1"/>
<line x1="359.7" y1="349" x2="361.9" y2="349" stroke="#666" stroke-width="1.1"/>
<line x1="452.9" y1="301.7" x2="452.9" y2="331.5" stroke="#666" stroke-width="1.1"/>
<line x1="451.8" y1="301.7" x2="454" y2="301.7" stroke="#666" stroke-width="1.1"/>
<line x1="451.8" y1="331.5" x2="454" y2="331.5" stroke="#666" stroke-width="1.1"/>
<path d="M291.3,404.45 L293.45,408.75 L289.15,408.75 Z" fill="#222"/>
<path d="M360.8,334.95 L362.95,339.25 L358.65,339.25 Z" fill="#222"/>
<path d="M452.9,315.35 L455.05,319.65 L450.75,319.65 Z" fill="#222"/>
<line x1="360.8" y1="366.6" x2="360.8" y2="380.7" stroke="#666" stroke-width="1.1"/>
<line x1="359.7" y1="366.6" x2="361.9" y2="366.6" stroke="#666" stroke-width="1.1"/>
<line x1="359.7" y1="380.7" x2="361.9" y2="380.7" stroke="#666" stroke-width="1.1"/>
<line x1="452.9" y1="334.4" x2="452.9" y2="350.2" stroke="#666" stroke-width="1.1"/>
<line x1="451.8" y1="334.4" x2="454" y2="334.4" stroke="#666" stroke-width="1.1"/>
<line x1="451.8" y1="350.2" x2="454" y2="350.2" stroke="#666" stroke-width="1.1"/>
<rect x="289.47" y="404.77" width="3.65" height="3.65" fill="#222" stroke="none" stroke-width="1"/>
<rect x="358.97" y="371.17" width="3.65" height="3.65" fill="#222" stroke="none" stroke-width="1"/>
<rect x="451.07" y="340.27" width="3.65" height="3.65" fill="#222" stroke="none" stroke-width="1"/>
<polygon points="360.7,314.86 361.39,316.25 362.93,316.48 361.81,317.56 362.08,319.09 360.7,318.37 359.32,319.09 359.59,317.56 358.47,316.48 360.01,316.25" fill="#111"/>
<text x="60.4" y="573.24" font-size="8.4" text-anchor="end" font-weight="normal" fill="#1a1a1a">0</text>
<text x="60.4" y="558.91" font-size="8.4" text-anchor="end" font-weight="normal" fill="#1a1a1a">2000</text>
<text x="60.4" y="544.58" font-size="8.4" text-anchor="end" font-weight="normal" fill="#1a1a1a">4000</text>
<text x="60.4" y="530.25" font-size="8.4" text-anchor="end" font-weight="normal" fill="#1a1a1a">6000</text>
<text x="60.4" y="515.93" font-size="8.4" text-anchor="end" font-weight="normal" fill="#1a1a1a">8000</text>
<text x="60.4" y="501.6" font-size="8.4" text-anchor="end" font-weight="normal" fill="#1a1a1a">10000</text>
<text x="60.4" y="487.27" font-size="8.4" text-anchor="end" font-weight="normal" fill="#1a1a1a">12000</text>
<text x="60.4" y="472.94" font-size="8.4" text-anchor="end" font-weight="normal" fill="#1a1a1a">14000</text>
<text x="63.4" y="581.26" font-size="9.6" text-anchor="middle" font-weight="normal" fill="#1a1a1a">0</text>
<text x="106.88" y="581.26" font-size="9.6" text-anchor="middle" font-weight="normal" fill="#1a1a1a">2</text>
<text x="150.35" y="581.26" font-size="9.6" text-anchor="middle" font-weight="normal" fill="#1a1a1a">4</text>
<text x="193.83" y="581.26" font-size="9.6" text-anchor="middle" font-weight="normal" fill="#1a1a1a">6</text>
<text x="237.3" y="581.26" font-size="9.6" text-anchor="middle" font-weight="normal" fill="#1a1a1a">8</text>
<text x="0" y="0" font-size="9.8" text-anchor="middle" fill="#1a1a1a" transform="translate(35.03,519.2) rotate(-90)">number of cells</text>
<path d="M63.9,569.1 C65.65,567.57 70.25,563.27 74.4,559.9 C78.55,556.53 83.98,552.52 88.8,548.9 C93.62,545.28 98.48,541.53 103.3,538.2 C108.12,534.87 113.43,531.37 117.7,528.9 C121.97,526.43 124.23,525.22 128.9,523.4 C133.57,521.58 139.95,519.63 145.7,518 C151.45,516.37 157.5,514.93 163.4,513.6 C169.3,512.27 175.2,511.1 181.1,510 C187,508.9 193,507.92 198.8,507 C204.6,506.08 213.05,504.92 215.9,504.5" stroke="#000" stroke-width="1.3" fill="none" stroke-linejoin="round"/>
<path d="M63.9,569.1 C66.08,568.02 72.65,564.8 77,562.6 C81.35,560.4 84.95,558.42 90,555.9 C95.05,553.38 101.53,550.23 107.3,547.5 C113.07,544.77 121,541.17 124.6,539.5 C128.2,537.83 125.38,538.87 128.9,537.5 C132.42,536.13 139.95,533.43 145.7,531.3 C151.45,529.17 157.5,526.97 163.4,524.7 C169.3,522.43 175.2,519.93 181.1,517.7 C187,515.47 193,513.23 198.8,511.3 C204.6,509.37 213.05,506.97 215.9,506.1" stroke="#000" stroke-width="1.3" fill="none" stroke-linejoin="round"/>
<line x1="128.9" y1="514.2" x2="128.9" y2="531.9" stroke="#000" stroke-width="0.9"/>
<line x1="126.65" y1="514.2" x2="131.15" y2="514.2" stroke="#000" stroke-width="0.9"/>
<line x1="126.65" y1="531.9" x2="131.15" y2="531.9" stroke="#000" stroke-width="0.9"/>
<line x1="216.1" y1="479.2" x2="216.1" y2="528.1" stroke="#000" stroke-width="0.9"/>
<line x1="213.85" y1="479.2" x2="218.35" y2="479.2" stroke="#000" stroke-width="0.9"/>
<line x1="213.85" y1="528.1" x2="218.35" y2="528.1" stroke="#000" stroke-width="0.9"/>
<path d="M63.9,566.7 L66.3,571.5 L61.5,571.5 Z" fill="#000"/>
<path d="M128.9,521 L131.3,525.8 L126.5,525.8 Z" fill="#000"/>
<path d="M215.9,502.1 L218.3,506.9 L213.5,506.9 Z" fill="#000"/>
<line x1="128.9" y1="531.9" x2="128.9" y2="543.9" stroke="#000" stroke-width="0.9"/>
<line x1="126.65" y1="531.9" x2="131.15" y2="531.9" stroke="#000" stroke-width="0.9"/>
<line x1="126.65" y1="543.9" x2="131.15" y2="543.9" stroke="#000" stroke-width="0.9"/>
<line x1="216.1" y1="479.2" x2="216.1" y2="532.5" stroke="#000" stroke-width="0.9"/>
<line x1="213.85" y1="479.2" x2="218.35" y2="479.2" stroke="#000" stroke-width="0.9"/>
<line x1="213.85" y1="532.5" x2="218.35" y2="532.5" stroke="#000" stroke-width="0.9"/>
<rect x="61.86" y="567.06" width="4.08" height="4.08" fill="#000" stroke="none" stroke-width="1"/>
<rect x="126.86" y="535.46" width="4.08" height="4.08" fill="#000" stroke="none" stroke-width="1"/>
<rect x="213.86" y="504.06" width="4.08" height="4.08" fill="#000" stroke="none" stroke-width="1"/>
<polygon points="128.9,503.25 129.56,504.59 131.04,504.8 129.97,505.85 130.22,507.32 128.9,506.62 127.58,507.32 127.83,505.85 126.76,504.8 128.24,504.59" fill="#111"/>
<line x1="376.8" y1="151" x2="412.3" y2="151" stroke="#111" stroke-width="1.45"/>
<path d="M393.8,147.2 L397.6,154.8 L390,154.8 Z" fill="#000"/>
<line x1="376.8" y1="173.8" x2="412.3" y2="173.8" stroke="#111" stroke-width="1.45"/>
<rect x="391.2" y="170.5" width="6.8" height="6.8" fill="#000" stroke="none" stroke-width="1"/>
<text x="423.8" y="154.8" font-size="12.4" text-anchor="start" font-weight="normal" fill="#111">WASp-/-</text>
<text x="423.8" y="176.3" font-size="12.2" text-anchor="start" font-weight="normal" fill="#111">wt</text>
<line x1="260.2" y1="289" x2="260.2" y2="406.3" stroke="#f2f2f2" stroke-width="1"/>
<line x1="236" y1="406.3" x2="260.2" y2="406.3" stroke="#f4f4f4" stroke-width="1"/>
<line x1="26" y1="239.4" x2="511" y2="239.4" stroke="#333" stroke-width="1.25"/>
<path d="M517,239.5 L509.5,236.9 L509.5,242.1 Z" fill="#111"/>
<text x="253.2" y="250.8" font-size="12.4" text-anchor="start" font-weight="normal" fill="#111">days</text>
<line x1="75" y1="419.8" x2="469" y2="419.8" stroke="#2a2a2a" stroke-width="1.3"/>
<path d="M475.6,419.7 L468,417.1 L468,422.3 Z" fill="#111"/>
<text x="267.5" y="430.5" font-size="12.4" text-anchor="start" font-weight="normal" fill="#111">days</text>
<text x="140.3" y="591.5" font-size="12.6" text-anchor="start" font-weight="normal" fill="#111">days</text>
<rect x="279.2" y="469.8" width="215.8" height="76.4" fill="none" stroke="#999999" stroke-width="1"/>
<text x="276.3" y="549.56" font-size="9.6" text-anchor="end" font-weight="normal" fill="#1a1a1a">0</text>
<text x="276.3" y="536.91" font-size="9.6" text-anchor="end" font-weight="normal" fill="#1a1a1a">1</text>
<text x="276.3" y="524.26" font-size="9.6" text-anchor="end" font-weight="normal" fill="#1a1a1a">2</text>
<text x="276.3" y="511.61" font-size="9.6" text-anchor="end" font-weight="normal" fill="#1a1a1a">3</text>
<text x="276.3" y="498.96" font-size="9.6" text-anchor="end" font-weight="normal" fill="#1a1a1a">4</text>
<text x="276.3" y="486.31" font-size="9.6" text-anchor="end" font-weight="normal" fill="#1a1a1a">5</text>
<text x="276.3" y="473.66" font-size="9.6" text-anchor="end" font-weight="normal" fill="#1a1a1a">6</text>
<line x1="281" y1="546.2" x2="281" y2="579" stroke="#f2f2f2" stroke-width="1"/>
<line x1="335.6" y1="546.2" x2="335.6" y2="579" stroke="#f2f2f2" stroke-width="1"/>
<line x1="389.2" y1="546.2" x2="389.2" y2="579" stroke="#f2f2f2" stroke-width="1"/>
<line x1="443.2" y1="546.2" x2="443.2" y2="579" stroke="#f2f2f2" stroke-width="1"/>
<line x1="495" y1="546.2" x2="495" y2="579" stroke="#f2f2f2" stroke-width="1"/>
<line x1="288.4" y1="537.35" x2="288.4" y2="539.24" stroke="#222" stroke-width="1"/>
<line x1="286.4" y1="537.35" x2="290.4" y2="537.35" stroke="#222" stroke-width="1"/>
<rect x="284.85" y="539.24" width="7.1" height="6.96" fill="#dcdcdc" stroke="#111" stroke-width="1"/>
<line x1="296.5" y1="527.23" x2="296.5" y2="532.29" stroke="#222" stroke-width="1"/>
<line x1="294.5" y1="527.23" x2="298.5" y2="527.23" stroke="#222" stroke-width="1"/>
<rect x="292.95" y="532.29" width="7.1" height="13.91" fill="#4a4a4a" stroke="#111" stroke-width="1"/>
<rect x="311.81" y="543.04" width="7.1" height="3.16" fill="#dcdcdc" stroke="#111" stroke-width="1"/>
<line x1="323.46" y1="532.29" x2="323.46" y2="536.08" stroke="#222" stroke-width="1"/>
<line x1="321.46" y1="532.29" x2="325.46" y2="532.29" stroke="#222" stroke-width="1"/>
<rect x="319.91" y="536.08" width="7.1" height="10.12" fill="#4a4a4a" stroke="#111" stroke-width="1"/>
<line x1="342.32" y1="516.47" x2="342.32" y2="524.7" stroke="#222" stroke-width="1"/>
<line x1="340.32" y1="516.47" x2="344.32" y2="516.47" stroke="#222" stroke-width="1"/>
<rect x="338.77" y="524.7" width="7.1" height="21.5" fill="#dcdcdc" stroke="#111" stroke-width="1"/>
<line x1="350.42" y1="499.4" x2="350.42" y2="508.25" stroke="#222" stroke-width="1"/>
<line x1="348.42" y1="499.4" x2="352.42" y2="499.4" stroke="#222" stroke-width="1"/>
<rect x="346.87" y="508.25" width="7.1" height="37.95" fill="#4a4a4a" stroke="#111" stroke-width="1"/>
<line x1="369.28" y1="531.65" x2="369.28" y2="532.92" stroke="#222" stroke-width="1"/>
<line x1="367.28" y1="531.65" x2="371.28" y2="531.65" stroke="#222" stroke-width="1"/>
<rect x="365.73" y="532.92" width="7.1" height="13.28" fill="#dcdcdc" stroke="#111" stroke-width="1"/>
<line x1="377.38" y1="509.52" x2="377.38" y2="515.84" stroke="#222" stroke-width="1"/>
<line x1="375.38" y1="509.52" x2="379.38" y2="509.52" stroke="#222" stroke-width="1"/>
<rect x="373.83" y="515.84" width="7.1" height="30.36" fill="#4a4a4a" stroke="#111" stroke-width="1"/>
<line x1="396.24" y1="540.89" x2="396.24" y2="543.42" stroke="#222" stroke-width="1"/>
<line x1="394.24" y1="540.89" x2="398.24" y2="540.89" stroke="#222" stroke-width="1"/>
<rect x="392.69" y="543.42" width="7.1" height="2.78" fill="#dcdcdc" stroke="#111" stroke-width="1"/>
<line x1="404.34" y1="537.35" x2="404.34" y2="540.25" stroke="#222" stroke-width="1"/>
<line x1="402.34" y1="537.35" x2="406.34" y2="537.35" stroke="#222" stroke-width="1"/>
<rect x="400.79" y="540.25" width="7.1" height="5.95" fill="#4a4a4a" stroke="#111" stroke-width="1"/>
<rect x="419.65" y="544.94" width="7.1" height="1.26" fill="#dcdcdc" stroke="#111" stroke-width="1"/>
<line x1="431.3" y1="537.6" x2="431.3" y2="540.25" stroke="#222" stroke-width="1"/>
<line x1="429.3" y1="537.6" x2="433.3" y2="537.6" stroke="#222" stroke-width="1"/>
<rect x="427.75" y="540.25" width="7.1" height="5.95" fill="#4a4a4a" stroke="#111" stroke-width="1"/>
<line x1="450.16" y1="523.68" x2="450.16" y2="530.39" stroke="#222" stroke-width="1"/>
<line x1="448.16" y1="523.68" x2="452.16" y2="523.68" stroke="#222" stroke-width="1"/>
<rect x="446.61" y="530.39" width="7.1" height="15.81" fill="#dcdcdc" stroke="#111" stroke-width="1"/>
<line x1="458.26" y1="477.26" x2="458.26" y2="497.5" stroke="#222" stroke-width="1"/>
<line x1="456.26" y1="477.26" x2="460.26" y2="477.26" stroke="#222" stroke-width="1"/>
<rect x="454.71" y="497.5" width="7.1" height="48.7" fill="#4a4a4a" stroke="#111" stroke-width="1"/>
<line x1="477.12" y1="520.27" x2="477.12" y2="531.65" stroke="#222" stroke-width="1"/>
<line x1="475.12" y1="520.27" x2="479.12" y2="520.27" stroke="#222" stroke-width="1"/>
<rect x="473.57" y="531.65" width="7.1" height="14.55" fill="#dcdcdc" stroke="#111" stroke-width="1"/>
<line x1="485.22" y1="472.83" x2="485.22" y2="503.82" stroke="#222" stroke-width="1"/>
<line x1="483.22" y1="472.83" x2="487.22" y2="472.83" stroke="#222" stroke-width="1"/>
<rect x="481.67" y="503.82" width="7.1" height="42.38" fill="#4a4a4a" stroke="#111" stroke-width="1"/>
<line x1="279.2" y1="546.2" x2="495" y2="546.2" stroke="#333" stroke-width="1.2"/>
<polygon points="318.96,520.16 319.65,521.55 321.19,521.78 320.08,522.86 320.34,524.39 318.96,523.67 317.59,524.39 317.85,522.86 316.74,521.78 318.28,521.55" fill="#111"/>
<polygon points="324.03,520.16 324.72,521.55 326.26,521.78 325.15,522.86 325.41,524.39 324.03,523.67 322.66,524.39 322.92,522.86 321.81,521.78 323.35,521.55" fill="#111"/>
<polygon points="343.96,489.16 344.65,490.55 346.19,490.78 345.08,491.86 345.34,493.39 343.96,492.67 342.59,493.39 342.85,491.86 341.74,490.78 343.28,490.55" fill="#111"/>
<polygon points="349.03,489.16 349.72,490.55 351.26,490.78 350.15,491.86 350.41,493.39 349.03,492.67 347.66,493.39 347.92,491.86 346.81,490.78 348.35,490.55" fill="#111"/>
<polygon points="371.16,498.96 371.85,500.35 373.39,500.58 372.28,501.66 372.54,503.19 371.16,502.47 369.79,503.19 370.05,501.66 368.94,500.58 370.48,500.35" fill="#111"/>
<polygon points="376.23,498.96 376.92,500.35 378.46,500.58 377.35,501.66 377.61,503.19 376.23,502.47 374.86,503.19 375.12,501.66 374.01,500.58 375.55,500.35" fill="#111"/>
<polygon points="428,521.16 428.69,522.55 430.23,522.78 429.11,523.86 429.38,525.39 428,524.67 426.62,525.39 426.89,523.86 425.77,522.78 427.31,522.55" fill="#111"/>
<polygon points="452.3,487.66 452.99,489.05 454.53,489.28 453.41,490.36 453.68,491.89 452.3,491.17 450.92,491.89 451.19,490.36 450.07,489.28 451.61,489.05" fill="#111"/>
<text x="291" y="559.3" font-size="10" text-anchor="middle" font-weight="normal" fill="#1a1a1a">S</text>
<text x="320.3" y="559.3" font-size="10" text-anchor="middle" font-weight="normal" fill="#1a1a1a">G2/M</text>
<text x="344.1" y="559.3" font-size="10" text-anchor="middle" font-weight="normal" fill="#1a1a1a">S</text>
<text x="374.3" y="559.3" font-size="10" text-anchor="middle" font-weight="normal" fill="#1a1a1a">G2/M</text>
<text x="398.1" y="559.3" font-size="10" text-anchor="middle" font-weight="normal" fill="#1a1a1a">S</text>
<text x="428.4" y="559.3" font-size="10" text-anchor="middle" font-weight="normal" fill="#1a1a1a">G2/M</text>
<text x="452.2" y="559.3" font-size="10" text-anchor="middle" font-weight="normal" fill="#1a1a1a">S</text>
<text x="482" y="559.3" font-size="10" text-anchor="middle" font-weight="normal" fill="#1a1a1a">G2/M</text>
<text x="302.4" y="572.58" font-size="10.8" text-anchor="middle" font-weight="normal" fill="#1a1a1a">T1</text>
<text x="356.9" y="572.58" font-size="10.8" text-anchor="middle" font-weight="normal" fill="#1a1a1a">T2</text>
<text x="411.8" y="572.58" font-size="10.8" text-anchor="middle" font-weight="normal" fill="#1a1a1a">FM</text>
<text x="470.9" y="572.58" font-size="10.8" text-anchor="middle" font-weight="normal" fill="#1a1a1a">MZP/MZ</text>
<rect x="374.4" y="581.4" width="5.6" height="6.6" fill="#dcdcdc" stroke="#111" stroke-width="1.2"/>
<rect x="374.2" y="596" width="6" height="7" fill="#4a4a4a" stroke="#333" stroke-width="1"/>
<text x="391.4" y="588.6" font-size="12" text-anchor="start" font-weight="normal" fill="#111">wt</text>
<text x="391.4" y="603.2" font-size="12" text-anchor="start" font-weight="normal" fill="#111">WASp-/-</text>
</svg>
</body></html>
